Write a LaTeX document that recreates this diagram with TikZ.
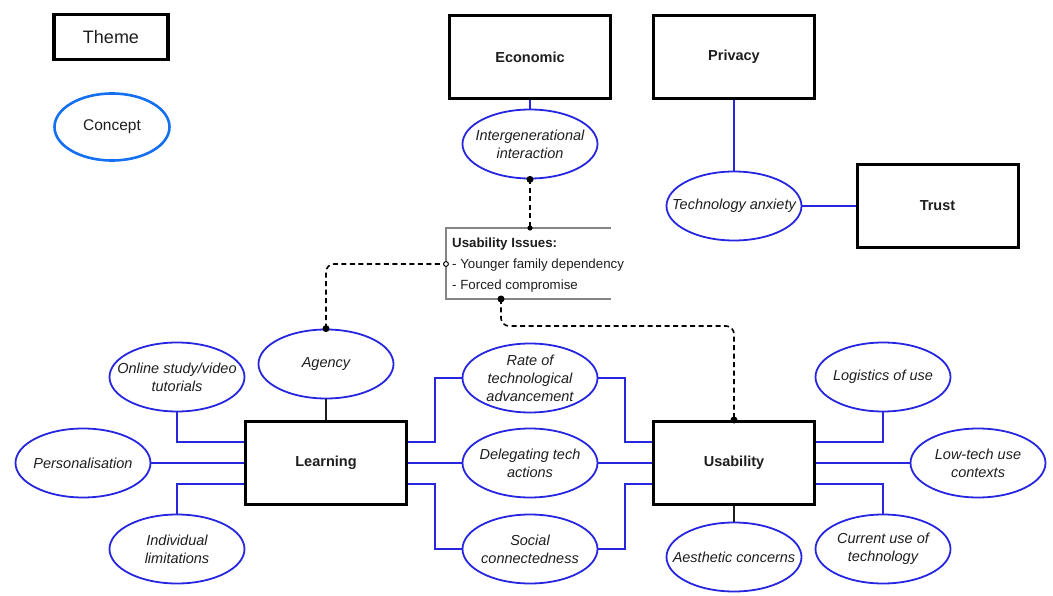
\documentclass[tikz,border=0pt]{standalone}
\usepackage{fontspec}
\setmainfont{Liberation Sans}
\usetikzlibrary{shapes.geometric}
\definecolor{cblue}{RGB}{38,38,225}
\definecolor{lblue}{RGB}{20,112,240}
\definecolor{framegray}{RGB}{132,132,132}
\definecolor{ink}{RGB}{30,30,30}
\begin{document}
\begin{tikzpicture}[x=1pt,y=-1pt,
  themebox/.style={draw, line width=3pt, minimum width=161pt, minimum height=83pt,
    inner sep=0, text=ink, font=\fontsize{14.5}{17}\selectfont\bfseries},
  conc/.style={ellipse, draw=cblue, line width=1.8pt, minimum width=135pt,
    minimum height=69pt, inner sep=0},
  ctext/.style={font=\fontsize{14.5}{18}\selectfont\itshape, align=center, text=ink, inner sep=0},
  link/.style={cblue, line width=1.8pt},
  stem/.style={ink, line width=1.5pt},
  dlink/.style={black, line width=1.6pt, dash pattern=on 5pt off 3.5pt, rounded corners=8pt},
  bigdot/.style={fill=black},
]
\useasboundingbox (0,0) rectangle (1053,596);

% legend
\node[draw, line width=3.5pt, minimum width=114pt, minimum height=45pt, inner sep=0,
  text=ink, font=\fontsize{18}{20}\selectfont] (legtheme) at (111,37) {Theme};
\node[ellipse, draw=lblue, line width=2.6pt, minimum width=115pt, minimum height=67pt,
  inner sep=0, text=ink, font=\fontsize{15.5}{18}\selectfont] (legconc) at (112,127) {Concept};

% themes
\node[themebox] (econ)  at (530,57)    {Economic};
\node[themebox] (priv)  at (734,57)    {Privacy};
\node[themebox] (trust) at (937.5,206) {Trust};
\node[themebox] (learn) at (326,463)   {Learning};
\node[themebox] (use)   at (734,463)   {Usability};

% concepts
\node[conc, label={[ctext]center:Intergenerational\\interaction}] (inter) at (530,144) {};
\node[conc, label={[ctext]center:Technology anxiety}] (anx) at (734,206) {};
\node[conc, label={[ctext]center:Agency}] (agency) at (326,364) {};
\node[conc, label={[ctext]center:Online study/video\\tutorials}] (online) at (177,377) {};
\node[conc, label={[ctext]center:Personalisation}] (pers) at (83,463) {};
\node[conc, label={[ctext]center:Individual\\limitations}] (indiv) at (177,549) {};
\node[conc, label={[ctext]center:Rate of\\technological\\advancement}] (rate) at (530,378) {};
\node[conc, label={[ctext]center:Delegating tech\\actions}] (deleg) at (530,463) {};
\node[conc, label={[ctext]center:Social\\connectedness}] (social) at (530,549) {};
\node[conc, label={[ctext]center:Logistics of use}] (logi) at (883,377) {};
\node[conc, label={[ctext]center:Low-tech use\\contexts}] (low) at (978,463) {};
\node[conc, label={[ctext]center:Current use of\\technology}] (curr) at (883,549) {};
\node[conc, label={[ctext]center:Aesthetic concerns}] (aest) at (734,557) {};

% usability issues note: open frame on the right
\coordinate (ibnw) at (446,228);
\coordinate (ibne) at (611,228);
\coordinate (ibsw) at (446,299);
\coordinate (ibse) at (611,299);
\draw[framegray, line width=2.4pt] (ibne) -- (ibnw) -- (ibsw) -- (ibse);
\node[anchor=west, align=left, inner sep=0, text=ink,
  font=\fontsize{13.3}{21}\selectfont] (issues) at (452,265)
  {\textbf{Usability Issues:}\\- Younger family dependency\\- Forced compromise};
\coordinate (itop) at (530,228);
\coordinate (ileft) at (446,264);
\coordinate (ibot) at (501,299);

% solid connectors
\draw[link] (econ.south) -- (inter.north);
\draw[link] (priv.south) -- (anx.north);
\draw[link] (anx.east) -- (trust.west);
\draw[stem] (agency.south) -- (learn.north);
\draw[stem] (use.south) -- (aest.north);

\draw[link] (online.south) |- ([yshift=21pt]learn.west);
\draw[link] (pers.east) -- (learn.west);
\draw[link] (indiv.north) |- ([yshift=-21pt]learn.west);

\draw[link] ([yshift=21pt]learn.east) -- ++(27,0) |- (rate.west);
\draw[link] (rate.east) -| ([xshift=-27pt,yshift=21pt]use.west) -- ([yshift=21pt]use.west);
\draw[link] (learn.east) -- (deleg.west);
\draw[link] (deleg.east) -- (use.west);
\draw[link] ([yshift=-21pt]learn.east) -- ++(27,0) |- (social.west);
\draw[link] (social.east) -| ([xshift=-27pt,yshift=-21pt]use.west) -- ([yshift=-21pt]use.west);

\draw[link] (logi.south) |- ([yshift=21pt]use.east);
\draw[link] (low.west) -- (use.east);
\draw[link] (curr.north) |- ([yshift=-21pt]use.east);

% dashed links to the note
\draw[dlink] (inter.south) -- (itop);
\draw[dlink] (agency.north) |- (ileft);
\draw[dlink] (ibot) -- ++(0,27) -| (use.north);

\fill[bigdot] (inter.south) circle (3.5pt);
\fill[bigdot] (itop) circle (2.6pt);
\fill[bigdot] (agency.north) circle (3.5pt);
\draw[black, line width=1pt, fill=white] (ileft) circle (2.4pt);
\fill[bigdot] (ibot) circle (3.5pt);
\fill[bigdot] (use.north) circle (3.5pt);
\end{tikzpicture}
\end{document}
